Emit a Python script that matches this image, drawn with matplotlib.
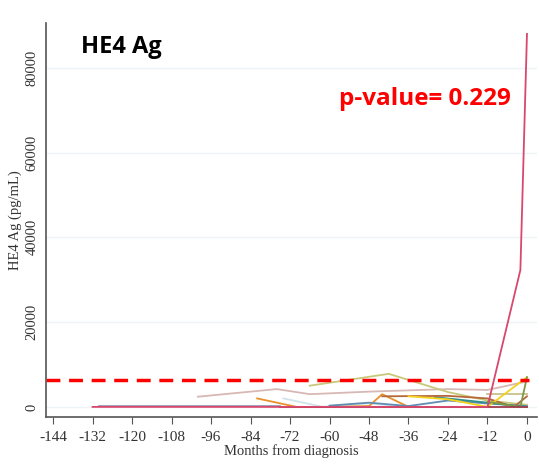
import matplotlib.pyplot as plt

# months from diagnosis / HE4 Ag values (pg/mL), one list per patient
pink_x = [-132, -96, -12, -2, 0]
pink_y = [0, 0, 0, 32300, 88000]
greyblue_x = [-130, -96, -75]
greyblue_y = [100, 100, 100]
darkred_x = [-75, -48, -24, 0]
darkred_y = [0, 0, 0, 0]
rosy_x = [-100, -76, -66, -48, -24, -12, 0]
rosy_y = [2400, 4200, 3000, 3600, 4200, 4000, 6000]
khaki_x = [-66, -42, -24, -12, 0]
khaki_y = [5000, 7800, 3500, 1500, 500]
orange_x = [-82, -70, -60, -48, -44, -36]
orange_y = [2000, 0, 0, 200, 3000, 0]
lightblue_x = [-74, -62, -48, -36]
lightblue_y = [2000, 0, 800, 0]
yellow_x = [-36, -24, -12, 0]
yellow_y = [2500, 1800, 0, 7000]
green_x = [-12, -2, 0]
green_y = [1200, 0, 7000]
teal_x = [-28, -12, 0]
teal_y = [2300, 1000, 0]
brown_x = [-44, -24, -12, -4, 0]
brown_y = [2500, 2600, 2000, 0, 2500]
olive_x = [-12, 0]
olive_y = [3000, 3000]
steel_x = [-60, -48, -36, -24, -12, 0]
steel_y = [300, 1000, 200, 1500, 800, 200]

cutoff = 6400
yticks = [0, 20000, 40000, 60000, 80000]
xticks = list(range(-144, 1, 12))

series = [
    (rosy_x, rosy_y, '#d8b8b4'),
    (khaki_x, khaki_y, '#c8c87a'),
    (lightblue_x, lightblue_y, '#cfe3ec'),
    (orange_x, orange_y, '#e8912d'),
    (steel_x, steel_y, '#5f8cb0'),
    (teal_x, teal_y, '#2f8f8a'),
    (brown_x, brown_y, '#b5683a'),
    (olive_x, olive_y, '#c9c08a'),
    (yellow_x, yellow_y, '#f5d21c'),
    (green_x, green_y, '#7a9a4a'),
    (greyblue_x, greyblue_y, '#9a9ab8'),
    (darkred_x, darkred_y, '#a03c4a'),
    (pink_x, pink_y, '#d8476e'),
]

fig = plt.figure(figsize=(5.39, 4.66), dpi=100)
ax = fig.add_axes([0.085, 0.105, 0.911, 0.846])

for y in yticks:
    ax.axhline(y, color='#eef3f5', lw=1, zorder=0)

for xs, ys, c in series:
    ax.plot(xs, ys, color=c, lw=1.3)

ax.axhline(cutoff, xmin=0, xmax=0.985, color='#ff0000', lw=2.5, ls=(0, (4, 2.5)))

ax.set_xlim(-146.2, 3)
ax.set_ylim(-2400, 90600)
ax.set_xticks(xticks)
ax.set_xticklabels([str(t) for t in xticks], family='Liberation Serif', fontsize=11)
ax.set_yticks(yticks)
ax.set_yticklabels([str(t) for t in yticks], family='Liberation Serif', fontsize=10.5,
                   rotation=90, va='center')
ax.tick_params(axis='y', length=0, pad=5, colors='#333333')
ax.tick_params(axis='x', length=5, pad=5, colors='#555555', labelcolor='#333333')
ax.set_xlabel('Months from diagnosis', family='Liberation Serif', fontsize=10.5,
              color='#333333', labelpad=0)
ax.set_ylabel('HE4 Ag (pg/mL)', family='Liberation Serif', fontsize=10.5,
              color='#333333', labelpad=3)
for s in ['top', 'right']:
    ax.spines[s].set_visible(False)
for s in ['left', 'bottom']:
    ax.spines[s].set_color('#555555')
    ax.spines[s].set_linewidth(1.2)

ax.text(-135.5, 84800, 'HE4 Ag', family='Open Sans', fontweight='bold',
        fontsize=17, ha='left', va='center', color='black')
ax.text(-5, 72600, 'p-value= 0.229', family='Open Sans', fontweight='bold',
        fontsize=17.5, ha='right', va='center', color='#ff0000')

fig.savefig('out.png', dpi=100)
